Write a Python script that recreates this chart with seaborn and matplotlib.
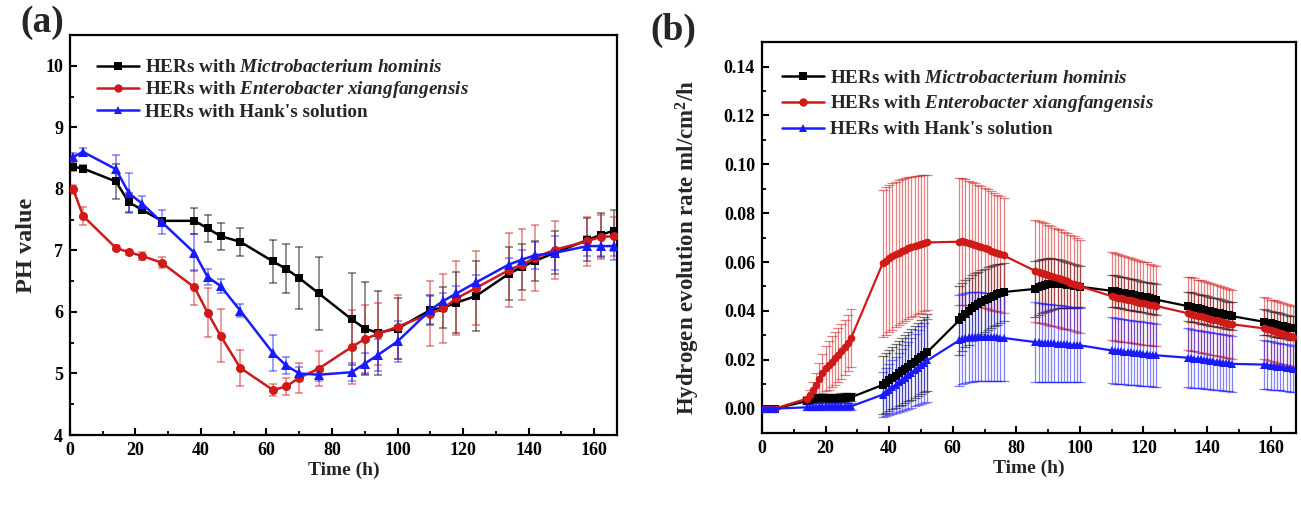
import matplotlib
matplotlib.use("Agg")
import matplotlib.pyplot as plt
from matplotlib.lines import Line2D
from matplotlib.ticker import MultipleLocator, FormatStrFormatter
import pandas as pd
import seaborn as sns

# ---------------------------------------------------------------- data
series_names = ["HERs with $\\mathit{Mictrobacterium}$ $\\mathit{hominis}$",
                "HERs with $\\mathit{Enterobacter}$ $\\mathit{xiangfangensis}$",
                "HERs with Hank's solution"]

# (a) pH of the immersion solution
ph_time = [1, 4, 14, 18, 22, 28, 38, 42, 46, 52, 62, 66, 70, 76, 86, 90, 94, 100,
           110, 114, 118, 124, 134, 138, 142, 148, 158, 162, 166]
ph_micro = [8.36, 8.33, 8.12, 7.78, 7.66, 7.48, 7.48, 7.36, 7.23, 7.14, 6.82, 6.70,
            6.55, 6.30, 5.88, 5.73, 5.66, 5.73, 6.03, 6.07, 6.15, 6.26, 6.62, 6.73,
            6.83, 6.96, 7.17, 7.25, 7.32]
ph_micro_err = [0.07, 0.05, 0.28, 0.15, 0.05, 0.05, 0.21, 0.22, 0.22, 0.23, 0.35, 0.40,
                0.50, 0.60, 0.75, 0.75, 0.68, 0.50, 0.24, 0.33, 0.50, 0.57, 0.43, 0.38,
                0.33, 0.35, 0.35, 0.35, 0.33]
ph_entero = [7.99, 7.56, 7.04, 6.97, 6.91, 6.80, 6.40, 5.99, 5.61, 5.09, 4.73, 4.79,
             4.93, 5.08, 5.43, 5.56, 5.64, 5.76, 5.97, 6.06, 6.22, 6.39, 6.68, 6.77,
             6.88, 7.01, 7.15, 7.22, 7.23]
ph_entero_err = [0.08, 0.15, 0.04, 0.04, 0.07, 0.09, 0.28, 0.40, 0.43, 0.29, 0.10, 0.14,
                 0.24, 0.28, 0.60, 0.55, 0.50, 0.52, 0.53, 0.56, 0.60, 0.60, 0.60, 0.58,
                 0.54, 0.47, 0.40, 0.36, 0.32]
ph_hank = [8.52, 8.60, 8.32, 7.93, 7.76, 7.46, 6.96, 6.57, 6.42, 6.02, 5.33, 5.13,
           5.00, 4.98, 5.02, 5.16, 5.30, 5.52, 6.03, 6.18, 6.30, 6.48, 6.77, 6.85,
           6.92, 6.96, 7.07, 7.07, 7.07]
ph_hank_err = [0.07, 0.06, 0.23, 0.33, 0.12, 0.19, 0.30, 0.13, 0.12, 0.11, 0.29, 0.14,
               0.10, 0.10, 0.15, 0.17, 0.26, 0.33, 0.23, 0.12, 0.12, 0.12, 0.10, 0.16,
               0.22, 0.28, 0.16, 0.16, 0.22]

# (b) hydrogen evolution rate, ml/cm^2/h
rate_time = [0, 1, 2, 3, 4,
             14, 15, 16, 17, 18, 19, 20, 21, 22, 23, 24, 25, 26, 27, 28,
             38, 39, 40, 41, 42, 43, 44, 45, 46, 47, 48, 49, 50, 51, 52,
             62, 63, 64, 65, 66, 67, 68, 69, 70, 71, 72, 73, 74, 75, 76,
             86, 87, 88, 89, 90, 91, 92, 93, 94, 95, 96, 97, 98, 99, 100,
             110, 111, 112, 113, 114, 115, 116, 117, 118, 119, 120, 121, 122, 123, 124,
             134, 135, 136, 137, 138, 139, 140, 141, 142, 143, 144, 145, 146, 147, 148,
             158, 159, 160, 161, 162, 163, 164, 165, 166, 167]
rate_micro = [0.0, 0.0, 0.0, 0.0, 0.0,
              0.0030, 0.0035, 0.0040, 0.0042, 0.0043, 0.0044, 0.0044, 0.0044, 0.0043, 0.0044, 0.0044, 0.0045, 0.0045, 0.0046, 0.0046,
              0.0097, 0.0106, 0.0115, 0.0125, 0.0134, 0.0144, 0.0153, 0.0163, 0.0172, 0.0182, 0.0192, 0.0201, 0.0211, 0.0221, 0.0231,
              0.0361, 0.0375, 0.0388, 0.0399, 0.0410, 0.0420, 0.0428, 0.0436, 0.0443, 0.0450, 0.0456, 0.0462, 0.0467, 0.0472, 0.0477,
              0.0490, 0.0496, 0.0501, 0.0505, 0.0508, 0.0510, 0.0511, 0.0511, 0.0510, 0.0509, 0.0507, 0.0505, 0.0503, 0.0501, 0.0499,
              0.0482, 0.0480, 0.0477, 0.0475, 0.0472, 0.0470, 0.0467, 0.0465, 0.0462, 0.0460, 0.0457, 0.0455, 0.0452, 0.0449, 0.0446,
              0.0419, 0.0416, 0.0413, 0.0410, 0.0407, 0.0404, 0.0401, 0.0398, 0.0396, 0.0393, 0.0390, 0.0387, 0.0384, 0.0381, 0.0378,
              0.0355, 0.0352, 0.0349, 0.0346, 0.0343, 0.0340, 0.0337, 0.0334, 0.0331, 0.0328]
rate_micro_err = [0.0003, 0.0003, 0.0003, 0.0003, 0.0003,
                  0.0012, 0.0013, 0.0014, 0.0015, 0.0015, 0.0016, 0.0016, 0.0016, 0.0016, 0.0016, 0.0017, 0.0017, 0.0017, 0.0017, 0.0017,
                  0.0120, 0.0123, 0.0126, 0.0128, 0.0131, 0.0134, 0.0137, 0.0139, 0.0142, 0.0145, 0.0147, 0.0150, 0.0153, 0.0155, 0.0158,
                  0.0141, 0.0140, 0.0138, 0.0137, 0.0135, 0.0134, 0.0132, 0.0131, 0.0129, 0.0128, 0.0126, 0.0125, 0.0123, 0.0121, 0.0120,
                  0.0115, 0.0113, 0.0111, 0.0109, 0.0107, 0.0105, 0.0103, 0.0101, 0.0099, 0.0097, 0.0095, 0.0092, 0.0090, 0.0087, 0.0085,
                  0.0066, 0.0066, 0.0065, 0.0065, 0.0065, 0.0065, 0.0064, 0.0064, 0.0064, 0.0064, 0.0063, 0.0063, 0.0063, 0.0063, 0.0062,
                  0.0060, 0.0060, 0.0060, 0.0059, 0.0059, 0.0059, 0.0059, 0.0058, 0.0058, 0.0058, 0.0058, 0.0057, 0.0057, 0.0057, 0.0057,
                  0.0052, 0.0052, 0.0051, 0.0051, 0.0051, 0.0050, 0.0050, 0.0050, 0.0049, 0.0049]
rate_entero = [0.0, 0.0, 0.0, 0.0, 0.0,
               0.0040, 0.0055, 0.0075, 0.0095, 0.0120, 0.0145, 0.0165, 0.0178, 0.0192, 0.0205, 0.0220, 0.0235, 0.0250, 0.0268, 0.0288,
               0.0595, 0.0605, 0.0615, 0.0623, 0.0631, 0.0638, 0.0645, 0.0651, 0.0656, 0.0661, 0.0666, 0.0670, 0.0674, 0.0677, 0.0680,
               0.0683, 0.0685, 0.0682, 0.0678, 0.0674, 0.0670, 0.0666, 0.0662, 0.0657, 0.0652, 0.0647, 0.0642, 0.0637, 0.0632, 0.0627,
               0.0563, 0.0560, 0.0556, 0.0552, 0.0548, 0.0543, 0.0539, 0.0534, 0.0530, 0.0525, 0.0521, 0.0516, 0.0511, 0.0506, 0.0501,
               0.0460, 0.0457, 0.0454, 0.0451, 0.0448, 0.0446, 0.0443, 0.0440, 0.0437, 0.0434, 0.0431, 0.0429, 0.0426, 0.0423, 0.0420,
               0.0390, 0.0387, 0.0384, 0.0380, 0.0377, 0.0374, 0.0371, 0.0367, 0.0364, 0.0361, 0.0358, 0.0355, 0.0351, 0.0348, 0.0345,
               0.0328, 0.0324, 0.0320, 0.0317, 0.0313, 0.0310, 0.0306, 0.0302, 0.0299, 0.0295]
rate_entero_err = [0.0003, 0.0003, 0.0003, 0.0003, 0.0003,
                   0.0010, 0.0020, 0.0035, 0.0050, 0.0065, 0.0080, 0.0092, 0.0100, 0.0105, 0.0108, 0.0110, 0.0112, 0.0114, 0.0116, 0.0118,
                   0.0300, 0.0302, 0.0301, 0.0300, 0.0298, 0.0297, 0.0295, 0.0293, 0.0290, 0.0288, 0.0286, 0.0284, 0.0281, 0.0278, 0.0275,
                   0.0260, 0.0259, 0.0257, 0.0255, 0.0253, 0.0252, 0.0250, 0.0248, 0.0246, 0.0245, 0.0243, 0.0241, 0.0239, 0.0237, 0.0235,
                   0.0210, 0.0209, 0.0207, 0.0206, 0.0205, 0.0203, 0.0202, 0.0201, 0.0199, 0.0198, 0.0197, 0.0195, 0.0194, 0.0192, 0.0190,
                   0.0180, 0.0179, 0.0178, 0.0177, 0.0176, 0.0175, 0.0174, 0.0173, 0.0172, 0.0171, 0.0170, 0.0169, 0.0167, 0.0166, 0.0165,
                   0.0150, 0.0150, 0.0149, 0.0148, 0.0148, 0.0147, 0.0147, 0.0146, 0.0146, 0.0145, 0.0144, 0.0144, 0.0143, 0.0143, 0.0142,
                   0.0127, 0.0127, 0.0126, 0.0126, 0.0126, 0.0126, 0.0125, 0.0125, 0.0125, 0.0125]
rate_hank = [0.0, 0.0, 0.0, 0.0, 0.0,
             0.0005, 0.0006, 0.0007, 0.0008, 0.0008, 0.0009, 0.0009, 0.0009, 0.0009, 0.0009, 0.0009, 0.0009, 0.0009, 0.0009, 0.0009,
             0.0057, 0.0067, 0.0077, 0.0087, 0.0097, 0.0107, 0.0117, 0.0127, 0.0137, 0.0147, 0.0157, 0.0167, 0.0177, 0.0187, 0.0197,
             0.0279, 0.0285, 0.0289, 0.0292, 0.0293, 0.0294, 0.0294, 0.0294, 0.0293, 0.0293, 0.0292, 0.0291, 0.0291, 0.0290, 0.0289,
             0.0272, 0.0271, 0.0270, 0.0269, 0.0268, 0.0268, 0.0267, 0.0266, 0.0265, 0.0264, 0.0263, 0.0262, 0.0261, 0.0260, 0.0259,
             0.0238, 0.0237, 0.0235, 0.0234, 0.0232, 0.0231, 0.0230, 0.0228, 0.0227, 0.0226, 0.0224, 0.0223, 0.0221, 0.0220, 0.0218,
             0.0208, 0.0206, 0.0204, 0.0203, 0.0201, 0.0199, 0.0197, 0.0196, 0.0194, 0.0192, 0.0190, 0.0188, 0.0187, 0.0185, 0.0183,
             0.0180, 0.0178, 0.0176, 0.0174, 0.0172, 0.0171, 0.0169, 0.0167, 0.0165, 0.0163]
rate_hank_err = [0.0003, 0.0003, 0.0003, 0.0003, 0.0003,
                 0.0012, 0.0013, 0.0014, 0.0014, 0.0015, 0.0015, 0.0015, 0.0015, 0.0015, 0.0015, 0.0015, 0.0015, 0.0015, 0.0015, 0.0015,
                 0.0093, 0.0099, 0.0104, 0.0110, 0.0115, 0.0121, 0.0126, 0.0132, 0.0137, 0.0143, 0.0148, 0.0154, 0.0159, 0.0165, 0.0170,
                 0.0185, 0.0185, 0.0184, 0.0184, 0.0183, 0.0183, 0.0182, 0.0182, 0.0181, 0.0181, 0.0180, 0.0180, 0.0179, 0.0179, 0.0178,
                 0.0163, 0.0162, 0.0162, 0.0161, 0.0160, 0.0159, 0.0159, 0.0158, 0.0157, 0.0156, 0.0155, 0.0155, 0.0154, 0.0153, 0.0152,
                 0.0135, 0.0135, 0.0134, 0.0134, 0.0133, 0.0133, 0.0133, 0.0132, 0.0132, 0.0132, 0.0131, 0.0131, 0.0130, 0.0130, 0.0130,
                 0.0120, 0.0120, 0.0119, 0.0119, 0.0118, 0.0118, 0.0118, 0.0117, 0.0117, 0.0117, 0.0116, 0.0116, 0.0115, 0.0115, 0.0115,
                 0.0100, 0.0099, 0.0099, 0.0098, 0.0098, 0.0097, 0.0097, 0.0096, 0.0096, 0.0095]

# ---------------------------------------------------------------- style
sns.set_style("ticks")
plt.rcParams.update({
    "font.family": ["Liberation Serif", "DejaVu Serif"],
    "font.weight": "bold",
    "mathtext.fontset": "custom",
    "mathtext.rm": "Liberation Serif:bold",
    "mathtext.it": "Liberation Serif:italic:bold",
    "mathtext.bf": "Liberation Serif:bold",
    "axes.linewidth": 1.6,
    "axes.edgecolor": "black",
    "xtick.direction": "in",
    "ytick.direction": "in",
    "xtick.color": "black",
    "ytick.color": "black",
})

colors = ["#000000", "#d01a1a", "#1a1aff"]
markers = ["s", "o", "^"]

fig = plt.figure(figsize=(13.01, 5.05), dpi=100)
ax_a = fig.add_axes([0.0538, 0.1386, 0.4204, 0.7921])
ax_b = fig.add_axes([0.5857, 0.1426, 0.4105, 0.7739])


def style_axes(ax):
    for s in ax.spines.values():
        s.set_visible(True)
        s.set_linewidth(1.6)
    ax.tick_params(which="major", length=5, width=1.5, labelsize=13, pad=5,
                   top=False, right=False)
    ax.tick_params(which="minor", length=3, width=1.3, top=False, right=False)
    for lab in ax.get_xticklabels() + ax.get_yticklabels():
        lab.set_fontweight("bold")


def legend_for(ax, ms, anchor, spacing):
    handles = [Line2D([], [], color=c, marker=m, markersize=ms, markeredgewidth=0, linewidth=1.8)
               for c, m in zip(colors, markers)]
    ax.legend(handles, series_names, loc="upper left", bbox_to_anchor=anchor,
              frameon=False, borderaxespad=0, borderpad=0, handlelength=2.2,
              handletextpad=0.3, labelspacing=spacing,
              prop={"family": "Liberation Serif", "weight": "bold", "size": 13.8})


# ---------------------------------------------------------------- (a)
ph_sets = [(ph_micro, ph_micro_err), (ph_entero, ph_entero_err), (ph_hank, ph_hank_err)]
ms_a = [6, 6.5, 7]
for (vals, err), c, m, ms, z in zip(ph_sets, colors, markers, ms_a, [3, 4, 5]):
    ax_a.errorbar(ph_time, vals, yerr=err, fmt="none", ecolor=c, alpha=0.55,
                  elinewidth=1.1, capsize=3.2, capthick=1.1, zorder=1)
    df = pd.DataFrame({"time": ph_time, "ph": vals})
    sns.lineplot(data=df, x="time", y="ph", ax=ax_a, color=c, marker=m, markersize=ms,
                 markeredgewidth=0, linewidth=1.8, estimator=None, sort=False,
                 legend=False, zorder=z)

ax_a.set_xlim(0, 167)
ax_a.set_ylim(4, 10.5)
ax_a.xaxis.set_major_locator(MultipleLocator(20))
ax_a.xaxis.set_minor_locator(MultipleLocator(10))
ax_a.yaxis.set_major_locator(MultipleLocator(1))
ax_a.yaxis.set_minor_locator(MultipleLocator(0.5))
ax_a.set_xlabel("Time (h)", fontsize=14, fontweight="bold", labelpad=2)
ax_a.set_ylabel("PH value", fontsize=17.5, fontweight="bold")
ax_a.yaxis.set_label_coords(-0.060, 0.475)
style_axes(ax_a)
legend_for(ax_a, 6, (0.049, 0.94), 0.16)

# ---------------------------------------------------------------- (b)
rate_sets = [(rate_micro, rate_micro_err), (rate_entero, rate_entero_err),
             (rate_hank, rate_hank_err)]
for (vals, err), c, m, z in zip(rate_sets, colors, markers, [3, 4, 5]):
    ax_b.errorbar(rate_time, vals, yerr=err, fmt="none", ecolor=c, alpha=0.55,
                  elinewidth=0.9, capsize=3.5, capthick=0.9, zorder=1)
    df = pd.DataFrame({"time": rate_time, "rate": vals})
    sns.lineplot(data=df, x="time", y="rate", ax=ax_b, color=c, marker=m, markersize=5.5,
                 markeredgewidth=0, linewidth=1.6, estimator=None, sort=False,
                 legend=False, zorder=z)

ax_b.set_xlim(0, 168)
ax_b.set_ylim(-0.01, 0.15)
ax_b.xaxis.set_major_locator(MultipleLocator(20))
ax_b.xaxis.set_minor_locator(MultipleLocator(10))
ax_b.yaxis.set_major_locator(MultipleLocator(0.02))
ax_b.yaxis.set_minor_locator(MultipleLocator(0.01))
ax_b.yaxis.set_major_formatter(FormatStrFormatter("%.2f"))
ax_b.set_xlabel("Time (h)", fontsize=14, fontweight="bold", labelpad=2)
ax_b.set_ylabel("Hydrogen evolution rate ml/cm$^2$/h", fontsize=16.5, fontweight="bold")
ax_b.yaxis.set_label_coords(-0.112, 0.474)
style_axes(ax_b)
legend_for(ax_b, 6, (0.037, 0.93), 0.34)

fig.text(0.016, 0.99, "(a)", fontsize=27, fontweight="bold", va="top", ha="left")
fig.text(0.500, 0.975, "(b)", fontsize=27, fontweight="bold", va="top", ha="left")

fig.savefig("out.png", dpi=100)
